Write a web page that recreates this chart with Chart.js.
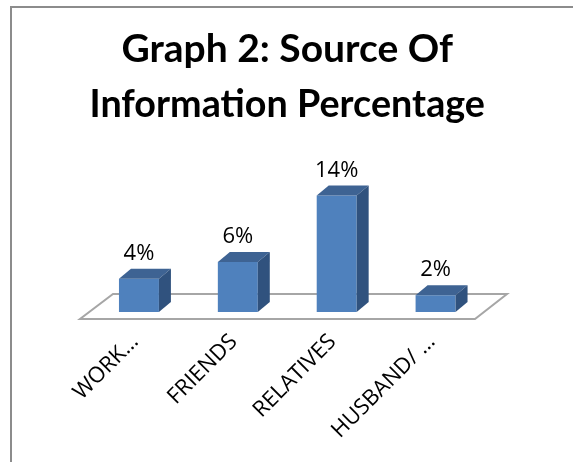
<!DOCTYPE html>
<html>
<head>
<meta charset="utf-8">
<script src="https://cdn.jsdelivr.net/npm/chart.js@4/dist/chart.umd.min.js"></script>
<style>
  html, body { margin: 0; padding: 0; background: #fff; }
  #frame { position: absolute; left: 10px; top: 6px; width: 600px; height: 500px;
           border-left: 2px solid #8c8c8c; border-top: 2px solid #8c8c8c; }
  #wrap { position: absolute; left: 0; top: 0; width: 561px; height: 454px; }
</style>
</head>
<body>
<div id="frame"><div id="wrap"><canvas id="c" width="561" height="454"></canvas></div></div>
<script>
const titleLines = ["Graph 2: Source Of", "Information Percentage"];
const categories = ["WORK…", "FRIENDS", "RELATIVES", "HUSBAND/ …"];
const percentValues = [4, 6, 14, 2];
const valueLabels = ["4%", "6%", "14%", "2%"];

const DX = 12, DY = 10;

const floorPlugin = {
  id: 'floor3d',
  beforeDatasetsDraw(chart) {
    const {ctx, chartArea} = chart;
    const y0 = chart.scales.y.getPixelForValue(0);
    const l = chartArea.left, r = chartArea.right;
    ctx.save();
    ctx.beginPath();
    ctx.moveTo(l - 9.5, y0 + 7);
    ctx.lineTo(r - 10, y0 + 7);
    ctx.lineTo(r + 22, y0 - 18);
    ctx.lineTo(l + 23.5, y0 - 18);
    ctx.closePath();
    ctx.fillStyle = '#ffffff';
    ctx.fill();
    ctx.lineWidth = 2;
    ctx.strokeStyle = '#a6a6a6';
    ctx.stroke();
    ctx.restore();
  }
};

const barPlugin = {
  id: 'bars3d',
  afterDatasetsDraw(chart) {
    const {ctx} = chart;
    const meta = chart.getDatasetMeta(0);
    ctx.save();
    meta.data.forEach((bar, i) => {
      const p = bar.getProps(['x', 'y', 'base', 'width'], true);
      const l = p.x - p.width / 2, r = p.x + p.width / 2;
      // top face
      ctx.beginPath();
      ctx.moveTo(l, p.y);
      ctx.lineTo(r, p.y);
      ctx.lineTo(r + DX, p.y - DY);
      ctx.lineTo(l + DX, p.y - DY);
      ctx.closePath();
      ctx.fillStyle = '#3e6393';
      ctx.fill();
      // side face
      ctx.beginPath();
      ctx.moveTo(r, p.y);
      ctx.lineTo(r + DX, p.y - DY);
      ctx.lineTo(r + DX, p.base - DY);
      ctx.lineTo(r, p.base);
      ctx.closePath();
      ctx.fillStyle = '#30527e';
      ctx.fill();
      // value label
      ctx.fillStyle = '#000';
      ctx.font = '22px "Open Sans"';
      ctx.textAlign = 'center';
      ctx.textBaseline = 'alphabetic';
      ctx.fillText(valueLabels[i], p.x, p.y - DY - 9);
    });
    ctx.restore();
  }
};

new Chart(document.getElementById('c'), {
  type: 'bar',
  data: {
    labels: categories,
    datasets: [{
      data: percentValues,
      backgroundColor: '#4f81bd',
      borderWidth: 0,
      categoryPercentage: 1,
      barPercentage: 0.404
    }]
  },
  options: {
    responsive: false,
    animation: false,
    events: [],
    layout: { padding: { left: 77.5, right: 88, top: 0, bottom: 0 } },
    plugins: {
      legend: { display: false },
      tooltip: { enabled: false },
      title: {
        display: true,
        text: titleLines,
        color: '#000',
        font: { family: 'Lato', weight: 'bold', size: 39, lineHeight: 1.41 },
        padding: { top: 14, bottom: 47 }
      }
    },
    scales: {
      x: {
        grid: { display: false },
        border: { display: false },
        ticks: {
          autoSkip: false,
          minRotation: 45,
          maxRotation: 45,
          color: '#000',
          padding: 9,
          labelOffset: -4,
          font: { family: 'Open Sans', size: 22 }
        },
        afterFit(scale) { scale.height = 150; }
      },
      y: {
        display: false,
        min: 0,
        max: 16
      }
    }
  },
  plugins: [floorPlugin, barPlugin]
});
</script>
</body>
</html>
